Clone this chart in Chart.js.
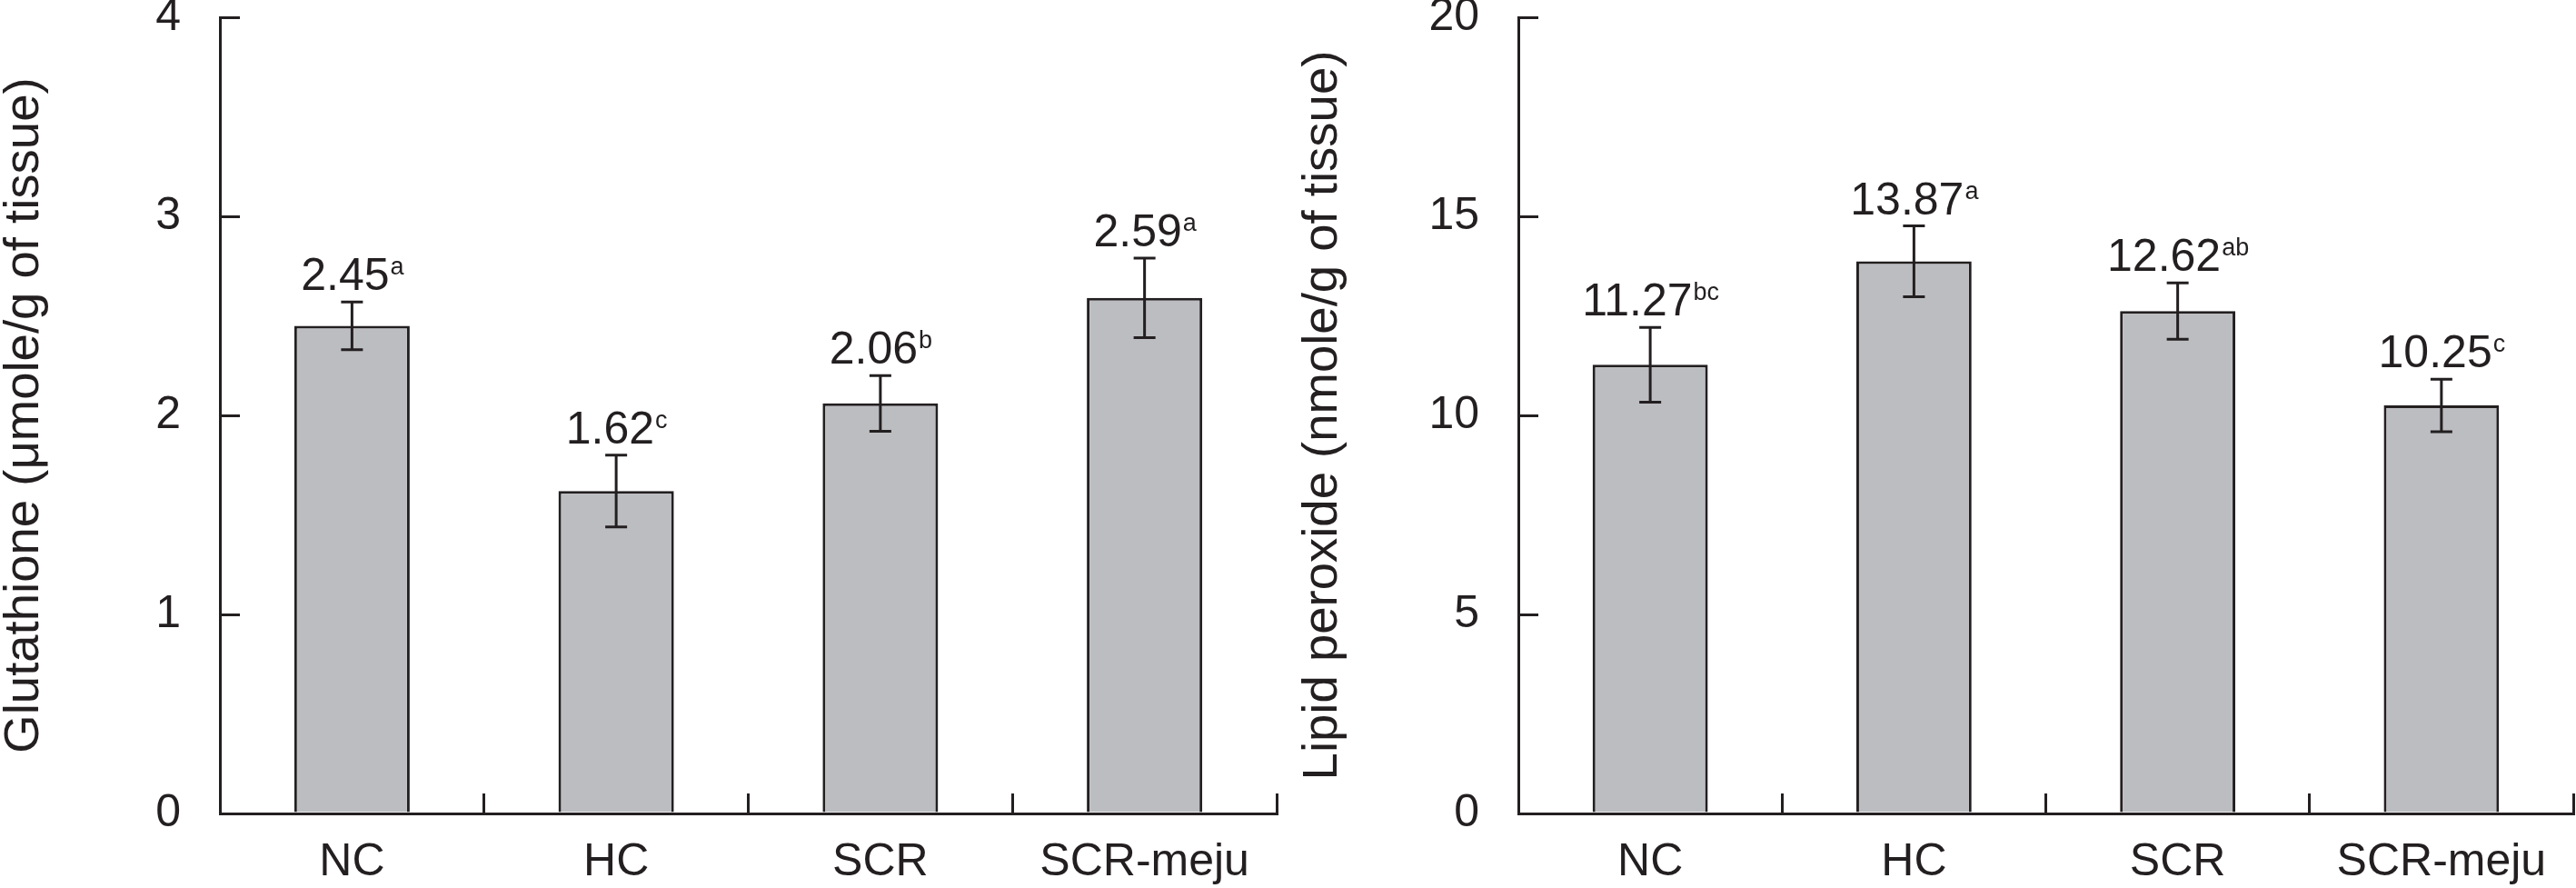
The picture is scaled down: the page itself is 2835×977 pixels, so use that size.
<!DOCTYPE html>
<html>
<head>
<meta charset="utf-8">
<script src="https://cdn.jsdelivr.net/npm/chart.js@4.4.1/dist/chart.umd.min.js"></script>
<style>
    body { margin: 0; background: #fff; width: 2835px; height: 977px; overflow: hidden; position: relative; }
    canvas { position: absolute; top: -11px; }
    #glutathioneChart { left: 0; }
    #lipidChart { left: 1417px; }
</style>
</head>
<body>
<canvas id="glutathioneChart" width="1430" height="988"></canvas>
<canvas id="lipidChart" width="1440" height="988"></canvas>
<script>
// data
const categories = ['NC', 'HC', 'SCR', 'SCR-meju'];

const glutathione = [2.45, 1.62, 2.06, 2.59];
const glutathioneErr = [0.12, 0.18, 0.14, 0.20];
const glutathioneSig = ['a', 'c', 'b', 'a'];
const glutathioneTicks = [0, 1, 2, 3, 4];

const lipid = [11.27, 13.87, 12.62, 10.25];
const lipidErr = [0.94, 0.89, 0.71, 0.66];
const lipidSig = ['bc', 'a', 'ab', 'c'];
const lipidTicks = [0, 5, 10, 15, 20];

const ink = '#231F20';
const barFill = '#BCBDC1';
const fontFamily = '"Liberation Sans", Arial, sans-serif';

// error bars + value labels with superscript letters
const errorBarPlugin = {
    id: 'errorBars',
    afterDatasetsDraw: function(chart, args, opts) {
        var ctx = chart.ctx;
        var yScale = chart.scales.y;
        var values = chart.data.datasets[0].data;
        var meta = chart.getDatasetMeta(0);
        ctx.save();
        meta.data.forEach(function(bar, i) {
            var x = bar.x;
            var hi = yScale.getPixelForValue(values[i] + opts.errors[i]);
            var lo = yScale.getPixelForValue(values[i] - opts.errors[i]);
            ctx.strokeStyle = ink;
            ctx.lineWidth = 3;
            ctx.beginPath();
            ctx.moveTo(x, hi);
            ctx.lineTo(x, lo);
            ctx.moveTo(x - 12, hi);
            ctx.lineTo(x + 12, hi);
            ctx.moveTo(x - 12, lo);
            ctx.lineTo(x + 12, lo);
            ctx.stroke();

            var main = values[i].toFixed(2);
            var sup = opts.letters[i];
            ctx.fillStyle = ink;
            ctx.textBaseline = 'alphabetic';
            ctx.textAlign = 'left';
            ctx.font = '50px ' + fontFamily;
            var w1 = ctx.measureText(main).width;
            ctx.font = '27px ' + fontFamily;
            var w2 = ctx.measureText(sup).width;
            var start = x - (w1 + w2) / 2;
            var base = hi - 13;
            ctx.font = '50px ' + fontFamily;
            ctx.fillText(main, start, base);
            ctx.font = '27px ' + fontFamily;
            ctx.fillText(sup, start + w1 + 1, base - 17);
        });
        ctx.restore();
    }
};

function makeChart(id, values, errors, letters, ticks, title, yWidth, titlePad) {
    var ctx = document.getElementById(id).getContext('2d');
    return new Chart(ctx, {
        type: 'bar',
        data: {
            labels: categories,
            datasets: [{
                data: values,
                backgroundColor: barFill,
                borderColor: ink,
                borderWidth: 3,
                barPercentage: 0.437,
                categoryPercentage: 1.0
            }]
        },
        plugins: [errorBarPlugin],
        options: {
            responsive: false,
            animation: false,
            devicePixelRatio: 1,
            layout: { padding: { left: 0, right: 25, top: 30, bottom: 0 } },
            plugins: {
                legend: { display: false },
                tooltip: { enabled: false },
                errorBars: { errors: errors, letters: letters }
            },
            scales: {
                x: {
                    offset: true,
                    border: { color: ink, width: 3 },
                    grid: { display: true, drawOnChartArea: false, drawTicks: true, tickLength: -22, color: ink, lineWidth: 3, offset: true },
                    ticks: { color: ink, padding: 46, font: { family: fontFamily, size: 50, lineHeight: 1.2 } },
                    afterFit: function(scale) {
                        scale.height = 82;
                        scale.paddingLeft = 0;
                        scale.paddingRight = 0;
                    }
                },
                y: {
                    min: ticks[0],
                    max: ticks[ticks.length - 1],
                    border: { color: ink, width: 3 },
                    grid: { drawOnChartArea: false, drawTicks: true, tickLength: -22, color: ink, lineWidth: 3 },
                    ticks: {
                        stepSize: ticks[1] - ticks[0],
                        color: ink,
                        padding: 65,
                        font: { family: fontFamily, size: 50, lineHeight: 1.2 }
                    },
                    title: {
                        display: true,
                        text: title,
                        color: ink,
                        padding: { top: titlePad, bottom: 0 },
                        font: { family: fontFamily, size: 54.5, lineHeight: 1 }
                    },
                    afterFit: function(scale) {
                        scale.width = yWidth;
                        scale.paddingTop = 30;
                        scale.paddingBottom = 0;
                    }
                }
            }
        }
    });
}

makeChart('glutathioneChart', glutathione, glutathioneErr, glutathioneSig, glutathioneTicks,
    'Glutathione (\u03BCmole/g of tissue)', 242, 0);
makeChart('lipidChart', lipid, lipidErr, lipidSig, lipidTicks,
    'Lipid peroxide (nmole/g of tissue)', 254, 12);
</script>
</body>
</html>
